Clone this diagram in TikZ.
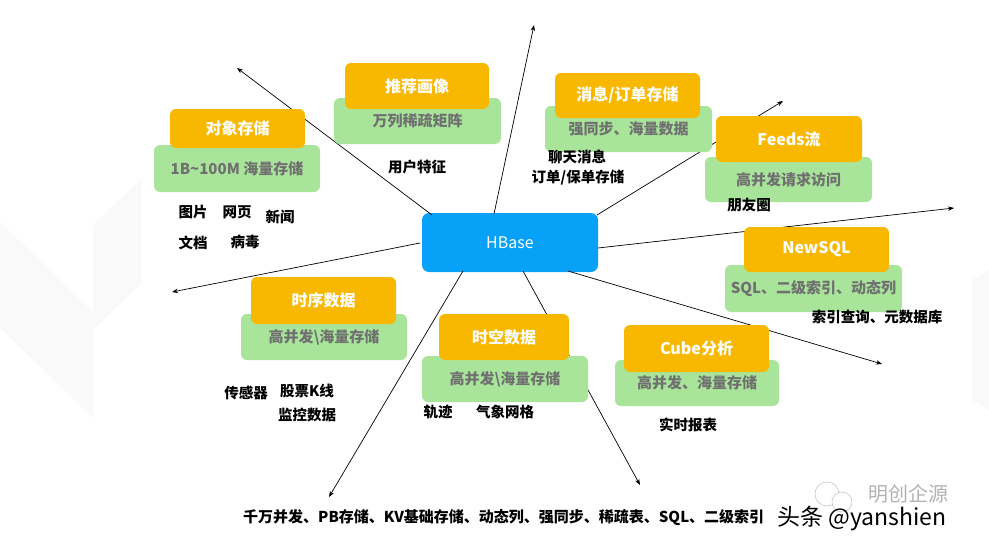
\documentclass[tikz,border=0pt]{standalone}
\usepackage{fontspec}
\setmainfont{Noto Sans CJK SC}
\usetikzlibrary{arrows.meta}
\definecolor{borange}{HTML}{F9B800}
\definecolor{bgreen}{HTML}{A8E59A}
\definecolor{bblue}{HTML}{07A2F7}
\definecolor{gtext}{HTML}{707070}
\definecolor{faint}{HTML}{F9F9F9}
\tikzset{
  ttl/.style={fill=borange, rounded corners=6pt, text=white, font=\fontsize{16}{18}\selectfont\bfseries, inner sep=0pt},
  sub/.style={fill=bgreen, rounded corners=6pt, text=gtext, font=\fontsize{15}{17}\selectfont\bfseries, inner sep=0pt},
  lbl/.style={font=\fontsize{14.5}{17}\selectfont\bfseries, inner sep=0pt},
  arr/.style={-{Stealth[length=6pt,width=4.5pt]}, line width=0.7pt},
}
\begin{document}
\begin{tikzpicture}[x=1pt,y=-1pt]
\useasboundingbox (0,0) rectangle (989,546);
% faint background shapes
\fill[faint] (0,222) -- (93,312) -- (93,418) -- (0,328) -- cycle;
\fill[faint] (93,225) -- (142,178) -- (142,283) -- (93,330) -- cycle;
\fill[faint] (972,280) -- (989,270) -- (989,410) -- (972,400) -- cycle;

% HBase node
\node[fill=bblue, rounded corners=7pt, minimum width=176pt, minimum height=59pt, inner sep=0pt, text=white, font=\fontsize{16}{18}\selectfont] (hb) at (510,242.5) {HBase};

% arrow start / end coordinates
\coordinate (s1) at (432,215); \coordinate (e1) at (237,68);
\coordinate (s2) at (494,214); \coordinate (e2) at (534,25);
\coordinate (s3) at (597,215); \coordinate (e3) at (783,101);
\coordinate (s4) at (598,248); \coordinate (e4) at (954,208);
\coordinate (s5) at (568,271); \coordinate (e5) at (882,364);
\coordinate (s6) at (523,271); \coordinate (e6) at (640,485);
\coordinate (s7) at (463,271); \coordinate (e7) at (329,497);
\coordinate (s8) at (420,243); \coordinate (e8) at (172,292);
\foreach \i in {1,...,8} {\draw[arr] (s\i) -- (e\i);}

% green sub boxes
\node[sub, minimum width=166pt, minimum height=47pt] (g1) at (237,168.5) {1B\textasciitilde100M 海量存储};
\node[sub, minimum width=167pt, minimum height=46pt] (g2) at (417.5,121) {万列稀疏矩阵};
\node[sub, minimum width=167pt, minimum height=46pt] (g3) at (628.5,129) {强同步、海量数据};
\node[sub, minimum width=167pt, minimum height=45pt] (g4) at (788.5,179.5) {高并发请求访问};
\node[sub, minimum width=177pt, minimum height=47pt] (g5) at (813.5,288.5) {SQL、二级索引、动态列};
\node[sub, minimum width=164pt, minimum height=46pt] (g6) at (697,383) {高并发、海量存储};
\node[sub, minimum width=166pt, minimum height=46pt] (g7) at (324,337) {高并发\textbackslash 海量存储};
\node[sub, minimum width=166pt, minimum height=46pt] (g8) at (505,379) {高并发\textbackslash 海量存储};

% orange title boxes
\node[ttl, minimum width=135pt, minimum height=39pt] (t1) at (237.5,128.5) {对象存储};
\node[ttl, minimum width=144pt, minimum height=46pt] (t2) at (417,86) {推荐画像};
\node[ttl, minimum width=145pt, minimum height=45pt] (t3) at (627.5,95.5) {消息/订单存储};
\node[ttl, minimum width=146pt, minimum height=46pt] (t4) at (789,139) {Feeds流};
\node[ttl, minimum width=145pt, minimum height=45pt] (t5) at (816.5,249.5) {NewSQL};
\node[ttl, minimum width=145pt, minimum height=47pt] (t6) at (696.5,348.5) {Cube分析};
\node[ttl, minimum width=145pt, minimum height=47pt] (t7) at (323.5,300.5) {时序数据};
\node[ttl, minimum width=130pt, minimum height=46pt] (t8) at (504,337) {时空数据};

% labels
\node[lbl] (l1) at (417,167) {用户特征};
\node[lbl] (l2) at (193,212) {图片};
\node[lbl] (l3) at (237,212) {网页};
\node[lbl] (l4) at (280,217) {新闻};
\node[lbl] (l5) at (193,243) {文档};
\node[lbl] (l6) at (245,242) {病毒};
\node[lbl] (l7) at (577,157) {聊天消息};
\node[lbl] (l8) at (578,178) {订单/保单存储};
\node[lbl] (l9) at (749,205) {朋友圈};
\node[lbl] (l10) at (877,317) {索引查询、元数据库};
\node[lbl] (l11) at (688,425) {实时报表};
\node[lbl] (l12) at (246,393) {传感器};
\node[lbl] (l13) at (307,391) {股票K线};
\node[lbl] (l14) at (307,415) {监控数据};
\node[lbl] (l15) at (438,412) {轨迹};
\node[lbl] (l16) at (505,412) {气象网格};
\node[lbl, font=\fontsize{15}{17}\selectfont\bfseries, anchor=west] (l17) at (243,518) {千万并发、PB存储、KV基础存储、动态列、强同步、稀疏表、SQL、二级索引};

% watermark
\draw[gray!45, line width=0.6pt] (827,494) circle (12pt);
\draw[gray!45, line width=0.6pt, fill=white] (842,502) circle (10pt);
\node[text=gray!60, font=\fontsize{20}{22}\selectfont, inner sep=0pt] (w1) at (908,494) {明创企源};
\node[font=\fontsize{23}{25}\selectfont, inner sep=0pt, anchor=west] (w2) at (777,519) {头条 @yanshien};
\end{tikzpicture}
\end{document}
